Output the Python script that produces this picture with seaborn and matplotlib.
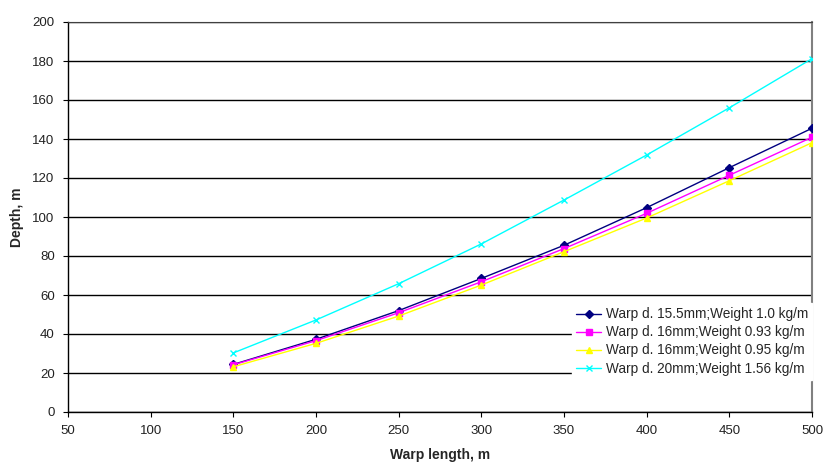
import pandas as pd
import numpy as np
import matplotlib
matplotlib.use('Agg')
import matplotlib.pyplot as plt
import seaborn as sns

# data
warp_length = [150, 200, 250, 300, 350, 400, 450, 500]
depth_155 = [24.4, 37.3, 52.0, 68.5, 85.5, 104.8, 125.3, 145.5]
depth_16a = [24.2, 36.6, 50.9, 66.8, 83.8, 101.9, 121.4, 140.9]
depth_16b = [23.2, 35.2, 49.2, 65.1, 82.2, 99.5, 118.6, 138.1]
depth_20 = [30.3, 47.2, 65.8, 86.2, 108.7, 131.8, 156.0, 181.2]

labels = ["Warp d. 15.5mm;Weight 1.0 kg/m",
          "Warp d. 16mm;Weight 0.93 kg/m",
          "Warp d. 16mm;Weight 0.95 kg/m",
          "Warp d. 20mm;Weight 1.56 kg/m"]
colors = ["#000080", "#FF00FF", "#FFFF00", "#00FFFF"]
markers = ["D", "s", "^", "x"]
msizes = [4, 4, 5, 5]

series = [depth_155, depth_16a, depth_16b, depth_20]

sns.set_style("white")
plt.rcParams['font.family'] = ['Liberation Sans', 'DejaVu Sans']

fig = plt.figure(figsize=(8.25, 4.62), dpi=100)
ax = fig.add_axes([68/825, 1-412/462, (812-68)/825, (412-22)/462])

for vals, lab, c, m, ms in zip(series, labels, colors, markers, msizes):
    d = pd.DataFrame({"length": warp_length, "depth": vals})
    sns.lineplot(data=d, x="length", y="depth", color=c, marker=m,
                 markersize=ms, markeredgecolor=c, markerfacecolor=c,
                 markeredgewidth=1, linewidth=1, label=lab, ax=ax, zorder=3)

ax.set_xlim(50, 500)
ax.set_ylim(0, 200)
ax.set_xticks(np.arange(50, 501, 50))
ax.set_yticks(np.arange(0, 201, 20))
ax.yaxis.grid(True, color="black", linewidth=1)
ax.xaxis.grid(False)
ax.set_axisbelow(True)

for s in ["left", "bottom"]:
    ax.spines[s].set_color("black")
    ax.spines[s].set_linewidth(1)
ax.spines["top"].set_color("#404040")
ax.spines["right"].set_color("#808080")
ax.spines["right"].set_linewidth(1.5)

ax.tick_params(axis="both", labelsize=9.5, length=3.6, color="black", direction="out",
               bottom=True, left=True, pad=6, labelcolor="#222222")
ax.set_xlabel("Warp length, m", fontsize=10, fontweight="bold", labelpad=8)
ax.set_ylabel("Depth, m", fontsize=10, fontweight="bold", labelpad=6)

# legend sits on top of the gridlines with a white box
h, l = ax.get_legend_handles_labels()
leg = ax.legend(h, l, loc="lower right", bbox_to_anchor=(1.0, 0.083), frameon=True,
                fontsize=9.8, handlelength=1.8, handletextpad=0.35, labelspacing=0.3,
                borderaxespad=0, borderpad=0.3, fancybox=False, edgecolor="white",
                facecolor="white", framealpha=1)
leg.set_zorder(5)

fig.savefig("out.png", dpi=100)
